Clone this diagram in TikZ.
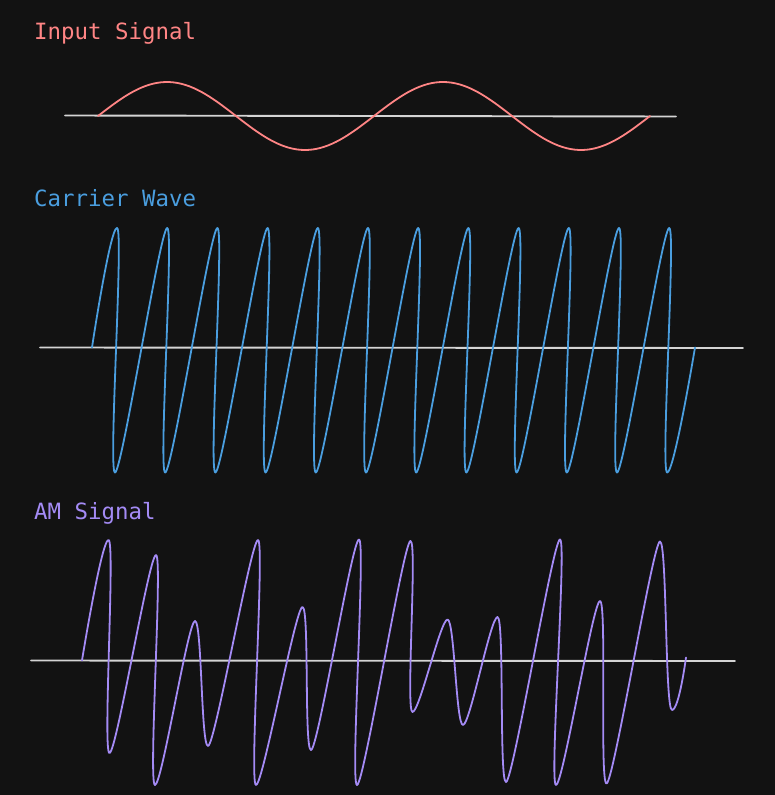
\documentclass[tikz,border=0pt]{standalone}
\usepackage{fontspec}
\newfontfamily\lblfont{DejaVu Sans Mono}
\definecolor{bg}{HTML}{121212}
\definecolor{axisc}{HTML}{D4D4D4}
\definecolor{inred}{HTML}{FF8585}
\definecolor{carblue}{HTML}{4A9EDF}
\definecolor{amviolet}{HTML}{A48BF5}
\tikzset{
  lbl/.style={anchor=base west, inner sep=0pt, font=\lblfont\fontsize{22.4}{26}\selectfont},
  axisline/.style={draw=axisc, line width=1.9pt, line cap=round},
  wave/.style={line width=1.8pt, line cap=round, line join=round},
}
\begin{document}
\begin{tikzpicture}[x=1pt, y=-1pt]
\fill[bg] (0,0) rectangle (775,795);
\useasboundingbox (0,0) rectangle (775,795);

% Input signal
\node[lbl, text=inred] (inlbl) at (34,39) {Input Signal};
\coordinate (inA) at (65,115.5);
\coordinate (inB) at (676,116.5);
\draw[axisline] (inA) -- (inB);
\draw[wave, draw=inred] plot[domain=0:552, samples=140] ({98+\x}, {116-34*sin(\x/276*360)});

% Carrier wave
\node[lbl, text=carblue] (carlbl) at (34,206) {Carrier Wave};
\coordinate (caA) at (40,347.5);
\coordinate (caB) at (743,348);
\draw[axisline] (caA) -- (caB);
\draw[wave, draw=carblue] (92,347.5) .. controls +(0,0) and +(-7,0) .. (117,228)
  \foreach \k in {0,...,10} {
    .. controls +(7,0) and +(-7,0) .. ({115+50.2*\k},472.5)
    .. controls +(7,0) and +(-7,0) .. ({117+50.2*(\k+1)},228)
  }
  .. controls +(7,0) and +(-7,0) .. (667.2,472.5)
  .. controls +(7,0) and +(0,0) .. (695,347.5);

% AM signal
\node[lbl, text=amviolet] (amlbl) at (34,519) {AM Signal};
\coordinate (amA) at (31,660.5);
\coordinate (amB) at (735,661);
\draw[axisline] (amA) -- (amB);
\draw[wave, draw=amviolet] (82,660.5) .. controls +(0,0) and +(-7,0) .. (108.5,540)
  \foreach \x/\y in {109.5/753, 156/555, 155/785, 195/621, 208/746, 258/540,
                     256/785, 302.5/607, 311/750, 359/539.5, 357/785, 410.5/541,
                     412.5/712, 447.5/619.5, 463/725, 497.5/617, 506/782, 560/539.5,
                     556/785, 600/601, 606.5/783.5, 660/541.5, 672/710} {
    .. controls +(7,0) and +(-7,0) .. (\x,\y)
  }
  .. controls +(7,0) and +(0,0) .. (686,657.5);
\end{tikzpicture}
\end{document}
